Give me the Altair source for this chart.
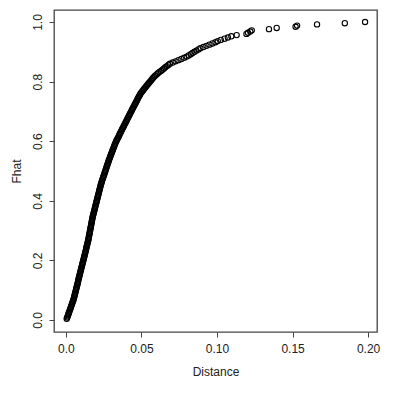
import altair as alt
import pandas as pd

distance = [
    0.0005, 0.0008, 0.0011, 0.0014, 0.0017, 0.0019, 0.0022, 0.0025, 0.0028, 0.0031,
    0.0033, 0.0036, 0.0039, 0.0042, 0.0044, 0.0047, 0.0050, 0.0052, 0.0054, 0.0056,
    0.0058, 0.0060, 0.0062, 0.0064, 0.0066, 0.0068, 0.0070, 0.0072, 0.0074, 0.0076,
    0.0078, 0.0080, 0.0081, 0.0083, 0.0085, 0.0087, 0.0089, 0.0091, 0.0093, 0.0095,
    0.0097, 0.0099, 0.0101, 0.0103, 0.0105, 0.0107, 0.0109, 0.0111, 0.0113, 0.0115,
    0.0117, 0.0119, 0.0121, 0.0123, 0.0125, 0.0127, 0.0129, 0.0131, 0.0133, 0.0134,
    0.0136, 0.0138, 0.0140, 0.0142, 0.0144, 0.0146, 0.0148, 0.0149, 0.0151, 0.0152,
    0.0154, 0.0155, 0.0157, 0.0158, 0.0160, 0.0161, 0.0163, 0.0164, 0.0166, 0.0167,
    0.0169, 0.0170, 0.0172, 0.0173, 0.0175, 0.0176, 0.0178, 0.0180, 0.0182, 0.0184,
    0.0186, 0.0188, 0.0190, 0.0192, 0.0194, 0.0196, 0.0198, 0.0200, 0.0202, 0.0204,
    0.0206, 0.0208, 0.0210, 0.0212, 0.0214, 0.0216, 0.0218, 0.0220, 0.0222, 0.0224,
    0.0226, 0.0228, 0.0230, 0.0232, 0.0235, 0.0237, 0.0239, 0.0242, 0.0245, 0.0247,
    0.0250, 0.0253, 0.0255, 0.0258, 0.0261, 0.0263, 0.0266, 0.0268, 0.0271, 0.0274,
    0.0276, 0.0279, 0.0282, 0.0284, 0.0287, 0.0290, 0.0293, 0.0296, 0.0299, 0.0302,
    0.0305, 0.0308, 0.0311, 0.0314, 0.0317, 0.0320, 0.0323, 0.0326, 0.0329, 0.0333,
    0.0337, 0.0341, 0.0345, 0.0349, 0.0353, 0.0356, 0.0360, 0.0364, 0.0368, 0.0372,
    0.0376, 0.0380, 0.0384, 0.0388, 0.0392, 0.0396, 0.0400, 0.0404, 0.0408, 0.0412,
    0.0416, 0.0420, 0.0424, 0.0428, 0.0432, 0.0436, 0.0440, 0.0444, 0.0448, 0.0452,
    0.0457, 0.0461, 0.0465, 0.0469, 0.0473, 0.0477, 0.0481, 0.0485, 0.0490, 0.0494,
    0.0500, 0.0506, 0.0512, 0.0518, 0.0525, 0.0531, 0.0537, 0.0544, 0.0550, 0.0557,
    0.0563, 0.0570, 0.0576, 0.0583, 0.0590, 0.0600, 0.0609, 0.0619, 0.0629, 0.0639,
    0.0649, 0.0658, 0.0668, 0.0678, 0.0688, 0.0707, 0.0726, 0.0745, 0.0764, 0.0783,
    0.0800, 0.0813, 0.0826, 0.0838, 0.0851, 0.0864, 0.0877, 0.0890, 0.0910, 0.0930,
    0.0950, 0.0970, 0.0990, 0.1005, 0.1025, 0.1050, 0.1072, 0.1095, 0.1130, 0.1195,
    0.1205, 0.1220, 0.1230, 0.1344, 0.1395, 0.1520, 0.1530, 0.1662, 0.1846, 0.1980,
]

x_ticks = [0.0, 0.05, 0.10, 0.15, 0.20]
y_ticks = [0.0, 0.2, 0.4, 0.6, 0.8, 1.0]

df = pd.DataFrame({"Distance": distance})

FONT = "Liberation Sans"
AXIS_COLOR = "#444444"
TEXT_COLOR = "#222222"

chart = (
    alt.Chart(df)
    .transform_window(Fhat="cume_dist()", sort=[alt.SortField("Distance")])
    .mark_point(shape="circle", filled=False, color="black", size=28, strokeWidth=1.1, opacity=1)
    .encode(
        x=alt.X(
            "Distance:Q",
            scale=alt.Scale(domain=[-0.0079, 0.2059], nice=False, zero=False),
            axis=alt.Axis(
                values=x_ticks,
                labelExpr="datum.value == 0 ? '0.0' : format(datum.value, '.2f')",
                grid=False,
                domain=False,
                tickColor=AXIS_COLOR,
                tickSize=5,
                labelPadding=6,
                labelFont=FONT,
                labelFontSize=12,
                labelColor=TEXT_COLOR,
                title="Distance",
                titleFont=FONT,
                titleFontSize=12,
                titleFontWeight="normal",
                titleColor=TEXT_COLOR,
                titlePadding=12,
            ),
        ),
        y=alt.Y(
            "Fhat:Q",
            scale=alt.Scale(domain=[-0.0403, 1.0403], nice=False, zero=False),
            axis=alt.Axis(
                values=y_ticks,
                format=".1f",
                grid=False,
                domain=False,
                tickColor=AXIS_COLOR,
                tickSize=5,
                labelAngle=270,
                labelAlign="center",
                labelBaseline="bottom",
                labelPadding=5,
                labelFont=FONT,
                labelFontSize=12,
                labelColor=TEXT_COLOR,
                title="Fhat",
                titleFont=FONT,
                titleFontSize=12,
                titleFontWeight="normal",
                titleColor=TEXT_COLOR,
                titlePadding=8,
            ),
        ),
    )
    .properties(
        width=323,
        height=322,
        background="white",
        autosize=alt.AutoSizeParams(type="none"),
        padding={"left": 46, "top": 2, "right": 15, "bottom": 59},
    )
    .configure_view(stroke=AXIS_COLOR, strokeWidth=1.3)
)

chart.save("out.html", embed_options={"renderer": "svg", "actions": False})
